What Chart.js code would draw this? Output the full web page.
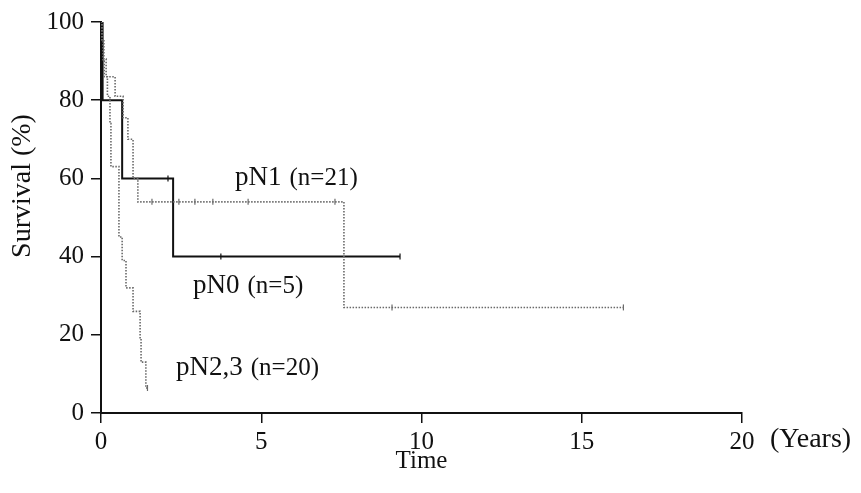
<!DOCTYPE html>
<html>
<head>
<meta charset="utf-8">
<script src="https://cdn.jsdelivr.net/npm/chart.js@4"></script>
<style>
  html, body { margin: 0; padding: 0; background: #fff; }
  #wrap { width: 861px; height: 493px; }
</style>
</head>
<body>
<div id="wrap"><canvas id="kmChart" width="861" height="493"></canvas></div>
<script>
// Kaplan-Meier steps (years, survival %)
var pN0Times = [0, 0.05, 0.66, 2.25, 9.33];
var pN0Surv  = [100, 80, 60, 40, 40];
var pN0CensorTimes = [2.09, 3.74, 9.33];
var pN0CensorSurv  = [60, 40, 40];

var pN1Times = [0, 0.03, 0.09, 0.16, 0.44, 0.69, 0.84, 1.0, 1.15, 7.58, 16.3];
var pN1Surv  = [100, 95.2, 90.5, 86, 81, 75.5, 70, 60, 54, 27, 27];
var pN1CensorTimes = [1.59, 2.43, 2.93, 3.49, 4.59, 7.3, 9.08, 16.3];
var pN1CensorSurv  = [54, 54, 54, 54, 54, 54, 27, 27];

var pN23Times = [0, 0.03, 0.06, 0.1, 0.2, 0.28, 0.31, 0.56, 0.66, 0.78, 1.0, 1.22, 1.25, 1.4, 1.45];
var pN23Surv  = [100, 95, 90, 86, 81, 74, 63, 45, 39, 32, 26, 19, 13, 6.4, 6.4];
var pN23CensorTimes = [1.45];
var pN23CensorSurv  = [6.4];

var xTicks = [0, 5, 10, 15, 20];
var yTicks = [0, 20, 40, 60, 80, 100];

function pts(xs, ys) {
    var out = [];
    for (var i = 0; i < xs.length; i++) out.push({x: xs[i], y: ys[i]});
    return out;
}

var black = '#111';
var grey = '#6a6a6a';
var serif = 'Liberation Serif';

function curve(data, color, dash, width) {
    return {
        data: data,
        showLine: true,
        stepped: 'before',
        borderColor: color,
        borderWidth: width,
        borderDash: dash,
        pointRadius: 0,
        fill: false
    };
}

function censor(data, color) {
    return {
        data: data,
        showLine: false,
        pointStyle: 'line',
        rotation: 90,
        pointRadius: 3,
        borderColor: color,
        borderWidth: 1.2
    };
}

var textPlugin = {
    id: 'texts',
    afterDraw: function(chart) {
        var c = chart.ctx;
        var xs = chart.scales.x, ys = chart.scales.y;
        c.save();
        c.fillStyle = black;

        // y axis title
        c.save();
        c.translate(23, 186);
        c.rotate(-Math.PI / 2);
        c.font = '28px ' + serif;
        c.textAlign = 'center';
        c.textBaseline = 'middle';
        c.fillText('Survival (%)', 0, 0);
        c.restore();

        c.font = '25px ' + serif;
        c.textAlign = 'center';
        c.textBaseline = 'middle';
        c.fillText('Time', (xs.left + xs.right) / 2, 461);

        c.font = '28px ' + serif;
        c.textAlign = 'left';
        c.fillText('(Years)', 770, 440);

        // curve labels
        function label(big, small, x, y) {
            c.textAlign = 'left';
            c.textBaseline = 'alphabetic';
            c.font = '27px ' + serif;
            c.fillText(big, x, y);
            var w = c.measureText(big).width;
            c.font = '25px ' + serif;
            c.fillText(small, x + w + 8, y);
        }
        label('pN1', '(n=21)', xs.getPixelForValue(4.18), ys.getPixelForValue(58.2));
        label('pN0', '(n=5)', xs.getPixelForValue(2.87), ys.getPixelForValue(30.6));
        label('pN2,3', '(n=20)', xs.getPixelForValue(2.34), ys.getPixelForValue(9.7));
        c.restore();
    }
};

var ctx = document.getElementById('kmChart').getContext('2d');
var chart = new Chart(ctx, {
    type: 'scatter',
    data: {
        datasets: [
            curve(pts(pN23Times, pN23Surv), grey, [1.5, 1.5], 1.6),
            curve(pts(pN1Times, pN1Surv), grey, [1.5, 1.5], 1.6),
            curve(pts(pN0Times, pN0Surv), black, [], 2),
            censor(pts(pN23CensorTimes, pN23CensorSurv), grey),
            censor(pts(pN1CensorTimes, pN1CensorSurv), grey),
            censor(pts(pN0CensorTimes, pN0CensorSurv), black)
        ]
    },
    options: {
        responsive: false,
        animation: false,
        layout: { padding: { top: 21, right: 119, left: 0, bottom: 0 } },
        plugins: {
            legend: { display: false },
            tooltip: { enabled: false }
        },
        scales: {
            x: {
                type: 'linear',
                min: 0,
                max: 20,
                afterBuildTicks: function(s) { s.ticks = xTicks.map(function(v) { return {value: v}; }); },
                afterFit: function(s) { s.height = 80; },
                border: { display: true, color: black, width: 2 },
                grid: { drawOnChartArea: false, drawTicks: true, tickLength: 10, color: black, lineWidth: 1.5 },
                ticks: { color: black, padding: 4, font: { family: serif, size: 25 } }
            },
            y: {
                min: 0,
                max: 100,
                afterBuildTicks: function(s) { s.ticks = yTicks.map(function(v) { return {value: v}; }); },
                afterFit: function(s) { s.width = 101; },
                border: { display: true, color: black, width: 2 },
                grid: { drawOnChartArea: false, drawTicks: true, tickLength: 10, color: black, lineWidth: 1.5 },
                ticks: { color: black, padding: 7, font: { family: serif, size: 25 } }
            }
        }
    },
    plugins: [textPlugin]
});
</script>
</body>
</html>
